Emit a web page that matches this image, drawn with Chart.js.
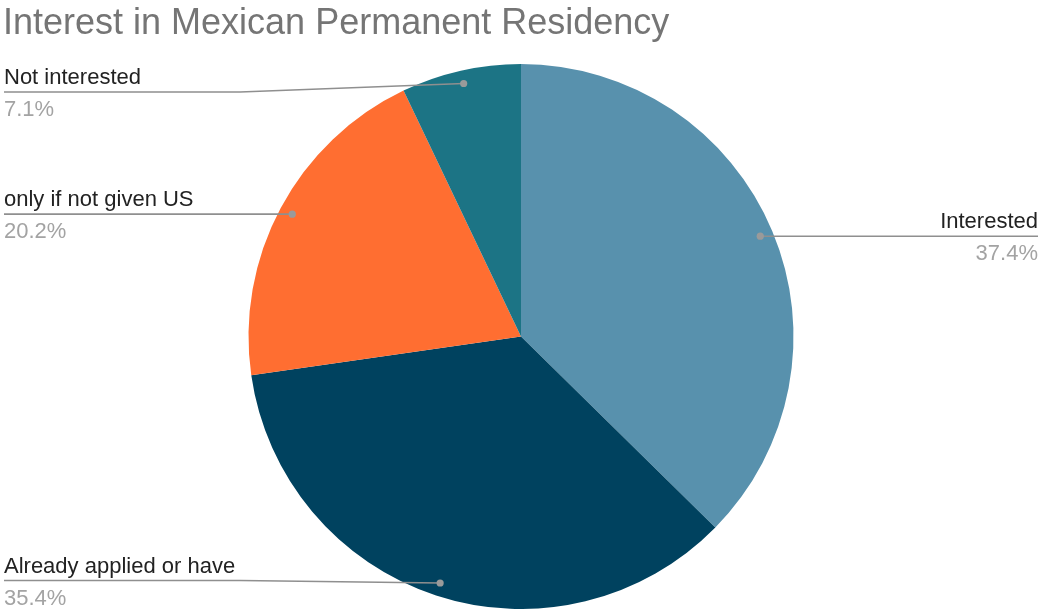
<!DOCTYPE html>
<html>
<head>
<meta charset="utf-8">
<script src="https://cdn.jsdelivr.net/npm/chart.js@4.4.1/dist/chart.umd.min.js"></script>
<style>
  html, body { margin: 0; padding: 0; background: #ffffff; }
  #wrap { width: 1039px; height: 609px; position: relative; }
</style>
</head>
<body>
<div id="wrap"><canvas id="chart" width="1039" height="609"></canvas></div>
<script>
const chartTitle = 'Interest in Mexican Permanent Residency';
const categories = ['Interested', 'Already applied or have', 'only if not given US', 'Not interested'];
const shares = [37.4, 35.4, 20.2, 7.1];
const sliceColors = ['#5891ad', '#00425f', '#ff6e31', '#1c7485'];

const FONT = '"Liberation Sans", Arial, sans-serif';

// Leader lines with category name above and share below each line
const calloutPlugin = {
  id: 'callouts',
  afterDatasetsDraw(chart) {
    const ctx = chart.ctx;
    const meta = chart.getDatasetMeta(0);
    const W = chart.width;
    ctx.save();
    meta.data.forEach((arc, i) => {
      const p = arc.getProps(['x', 'y', 'startAngle', 'endAngle', 'outerRadius'], true);
      const mid = (p.startAngle + p.endAngle) / 2;
      const r = p.outerRadius * 0.952;
      const dx = p.x + Math.cos(mid) * r;
      const dy = p.y + Math.sin(mid) * r;
      const right = Math.cos(mid) >= 0;
      const lineY = Math.min(Math.max(dy, 92), 580.5);
      const edgeX = right ? W - 1 : 4;
      const kneeX = right ? dx + 20 : 240;

      ctx.strokeStyle = '#8f8f8f';
      ctx.lineWidth = 1.6;
      ctx.beginPath();
      ctx.moveTo(dx, dy);
      if (Math.abs(lineY - dy) > 0.5 && !right) {
        ctx.lineTo(kneeX, lineY);
      }
      ctx.lineTo(edgeX, lineY);
      ctx.stroke();

      ctx.fillStyle = '#9a9a9a';
      ctx.beginPath();
      ctx.arc(dx, dy, 3.6, 0, Math.PI * 2);
      ctx.fill();

      ctx.textAlign = right ? 'right' : 'left';
      ctx.textBaseline = 'alphabetic';
      ctx.font = '22px ' + FONT;
      ctx.fillStyle = '#222222';
      ctx.fillText(chart.data.labels[i], edgeX, lineY - 8);
      ctx.fillStyle = '#a3a3a3';
      ctx.fillText(chart.data.datasets[0].data[i].toFixed(1) + '%', edgeX, lineY + 24);
    });
    ctx.restore();
  }
};

new Chart(document.getElementById('chart'), {
  type: 'pie',
  data: {
    labels: categories,
    datasets: [{
      data: shares,
      backgroundColor: sliceColors,
      borderWidth: 0,
      hoverOffset: 0
    }]
  },
  options: {
    responsive: false,
    animation: false,
    events: [],
    layout: { padding: { top: 0, left: 3, right: 0, bottom: -1 } },
    plugins: {
      legend: { display: false },
      tooltip: { enabled: false },
      title: {
        display: true,
        text: chartTitle,
        align: 'start',
        color: '#757575',
        font: { family: FONT, size: 36, weight: 'normal', lineHeight: 1.2 },
        padding: { top: 2, bottom: 18.8 }
      }
    }
  },
  plugins: [calloutPlugin]
});
</script>
</body>
</html>
